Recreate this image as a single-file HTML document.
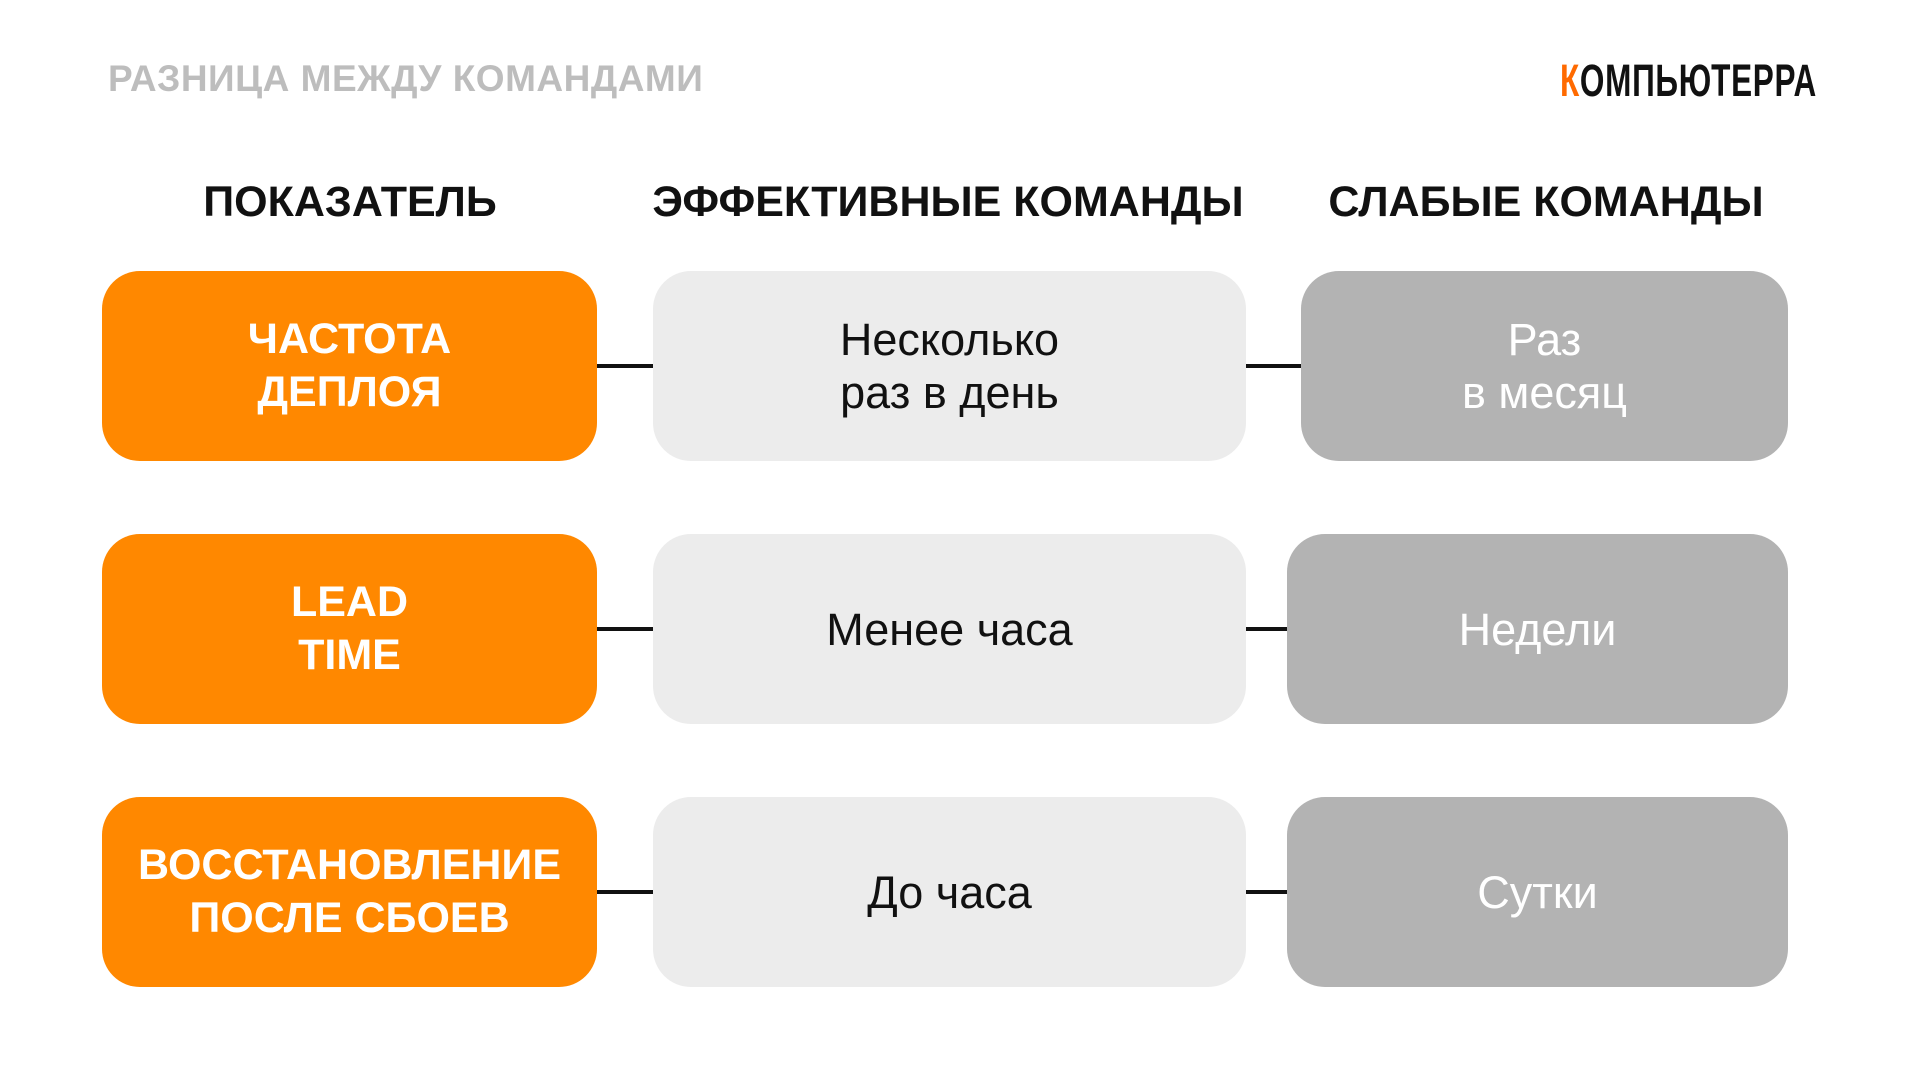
<!DOCTYPE html>
<html><head><meta charset="utf-8"><style>
body{margin:0;width:1920px;height:1080px;background:#fff;position:relative;overflow:hidden;font-family:"Liberation Sans","DejaVu Sans",sans-serif}
.a{position:absolute}
.title{left:108px;top:58px;font-size:37px;font-weight:bold;color:#bdbdbd;letter-spacing:0.5px}
.logo{left:1560px;top:55px;font-size:45px;font-weight:bold;color:#111;transform:scaleX(0.7);transform-origin:left top;letter-spacing:1px}
.h{top:178px;font-size:43px;font-weight:bold;color:#111;text-align:center;white-space:nowrap}
.b{display:flex;align-items:center;justify-content:center;text-align:center;border-radius:38px;font-size:45px;line-height:53px}
.o{background:#ff8800;color:#fff;font-weight:bold;font-size:43px;left:102px;width:495px}
.l{background:#ececec;color:#111;left:653px;width:593px}
.g{background:#b3b3b3;color:#fff}
.c{height:4px;background:#111}
</style></head><body>
<div class="a title">РАЗНИЦА МЕЖДУ КОМАНДАМИ</div>
<div class="a logo"><span style="color:#ff6a00">К</span>ОМПЬЮТЕРРА</div>
<div class="a h" style="left:150px;width:400px">ПОКАЗАТЕЛЬ</div>
<div class="a h" style="left:648px;width:600px">ЭФФЕКТИВНЫЕ КОМАНДЫ</div>
<div class="a h" style="left:1296px;width:500px">СЛАБЫЕ КОМАНДЫ</div>

<div class="a b o" style="top:271px;height:190px">ЧАСТОТА<br>ДЕПЛОЯ</div>
<div class="a b l" style="top:271px;height:190px">Несколько<br>раз в день</div>
<div class="a b g" style="top:271px;height:190px;left:1301px;width:487px">Раз<br>в месяц</div>
<div class="a c" style="top:364px;left:597px;width:56px"></div>
<div class="a c" style="top:364px;left:1246px;width:55px"></div>

<div class="a b o" style="top:534px;height:190px">LEAD<br>TIME</div>
<div class="a b l" style="top:534px;height:190px">Менее часа</div>
<div class="a b g" style="top:534px;height:190px;left:1287px;width:501px">Недели</div>
<div class="a c" style="top:627px;left:597px;width:56px"></div>
<div class="a c" style="top:627px;left:1246px;width:41px"></div>

<div class="a b o" style="top:797px;height:190px">ВОССТАНОВЛЕНИЕ<br>ПОСЛЕ СБОЕВ</div>
<div class="a b l" style="top:797px;height:190px">До часа</div>
<div class="a b g" style="top:797px;height:190px;left:1287px;width:501px">Сутки</div>
<div class="a c" style="top:890px;left:597px;width:56px"></div>
<div class="a c" style="top:890px;left:1246px;width:41px"></div>
</body></html>
